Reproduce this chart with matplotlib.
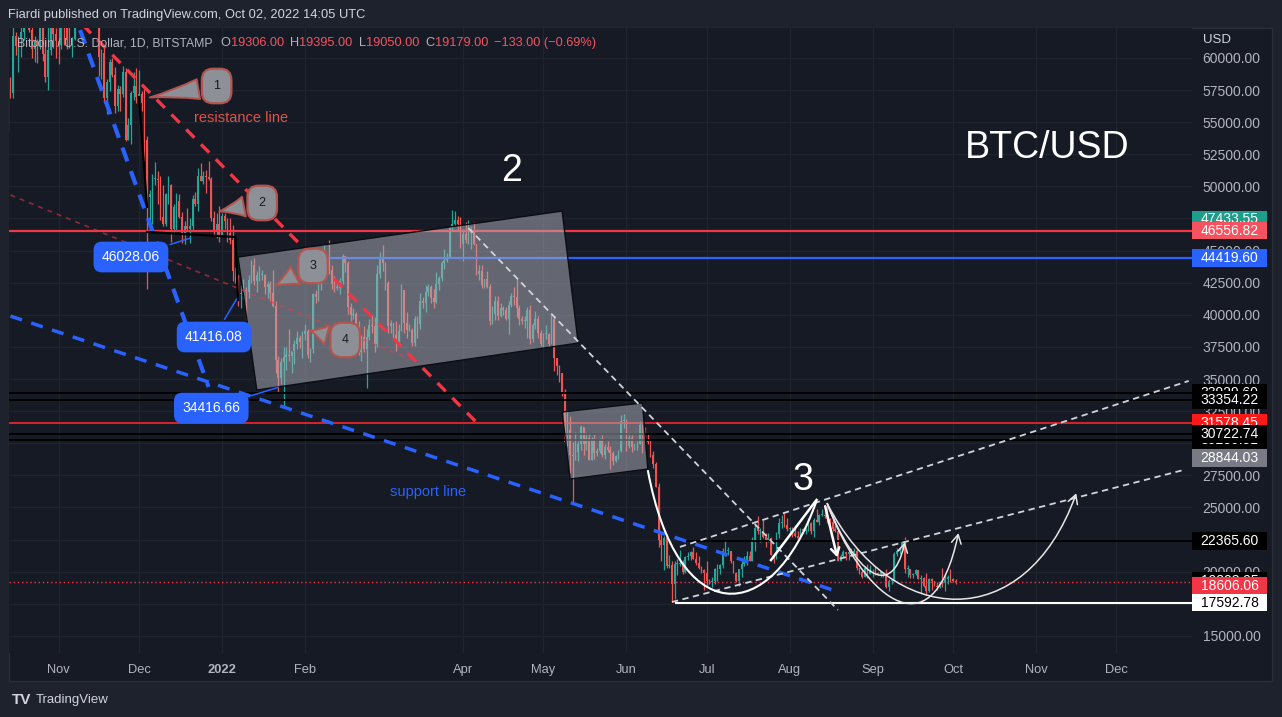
import numpy as np
import pandas as pd
import matplotlib
matplotlib.use('Agg')
import matplotlib.pyplot as plt
import matplotlib.dates as mdates
import matplotlib.transforms as mtransforms
from matplotlib.path import Path
from matplotlib.patches import Polygon, PathPatch, FancyArrowPatch, Rectangle

plt.rcParams['font.family'] = ['Liberation Sans', 'DejaVu Sans']

# BTC/USD daily candles (Bitstamp), thousands of USD, first candle 2021-10-11
first_day = '2021-10-11'
first_open = 54.7
close_k = [
    # Oct 2021 (11th..31st)
    57.5, 56.0, 57.4, 57.3, 61.7, 60.9, 61.5, 62.0, 64.3, 66.0, 62.2, 60.7, 61.3, 60.9, 63.1, 60.3, 58.5, 60.6, 62.3, 61.9, 61.3,
    # Nov
    61.0, 63.2, 62.9, 61.4, 61.0, 61.5, 63.3, 67.5, 66.9, 64.9, 64.9, 64.2, 64.4, 65.5, 63.6, 60.1, 60.4, 56.9, 58.1, 59.7,
    58.7, 56.3, 57.6, 57.2, 58.9, 53.6, 54.8, 57.3, 57.8, 57.0,
    # Dec
    57.2, 56.5, 53.6, 49.2, 49.4, 50.6, 50.6, 50.5, 47.6, 47.1, 49.4, 50.1, 46.7, 48.4, 48.9, 47.6, 46.2, 46.9, 46.7, 46.9,
    49.0, 48.6, 50.8, 50.4, 50.8, 50.7, 50.6, 47.5, 46.5, 47.1, 46.2,
    # Jan 2022
    47.7, 47.3, 46.4, 45.8, 43.4, 43.1, 41.6, 41.7, 41.9, 41.8, 42.7, 43.9, 42.6, 43.1, 43.1, 43.1, 42.2, 42.4, 41.7, 40.7,
    36.5, 35.1, 36.3, 36.7, 36.9, 36.8, 37.2, 37.7, 38.2, 37.9, 38.5,
    # Feb
    38.7, 36.9, 37.3, 41.6, 41.4, 42.4, 43.8, 44.1, 44.4, 43.5, 42.4, 42.2, 42.1, 42.6, 44.6, 44.0, 40.6, 40.0, 40.1, 38.4,
    37.1, 38.3, 37.3, 38.3, 39.2, 39.1, 37.7, 43.2,
    # Mar
    44.4, 44.0, 42.5, 39.1, 39.4, 38.4, 37.9, 38.7, 41.9, 39.4, 38.8, 38.8, 37.8, 39.7, 39.3, 41.1, 40.9, 41.8, 42.2, 41.3,
    41.0, 42.4, 42.9, 44.0, 44.3, 44.5, 46.8, 47.1, 47.4, 47.1, 45.5,
    # Apr
    46.3, 45.8, 46.4, 46.6, 45.5, 43.2, 43.4, 42.3, 42.8, 42.2, 39.5, 40.1, 41.1, 39.9, 40.5, 40.4, 39.7, 40.8, 41.5, 41.4,
    40.5, 39.7, 39.5, 39.5, 40.4, 38.1, 39.2, 39.7, 38.6, 37.7,
    # May
    38.5, 38.5, 37.7, 39.7, 36.6, 36.0, 35.5, 34.0, 30.1, 31.0, 29.1, 29.0, 29.3, 29.9, 31.3, 29.9, 30.4, 28.7, 30.3, 29.2,
    29.4, 30.3, 29.1, 29.7, 29.5, 29.2, 28.6, 29.0, 29.4, 31.7, 31.8,
    # Jun
    29.8, 30.4, 29.7, 29.9, 29.9, 31.4, 31.1, 30.2, 30.1, 29.1, 28.4, 26.6, 22.5, 22.1, 22.6, 20.4, 20.5, 19.0, 20.6, 20.6,
    20.7, 20.0, 21.1, 21.2, 21.5, 21.0, 20.7, 20.3, 20.1, 19.9,
    # Jul
    19.3, 19.2, 19.3, 20.2, 20.2, 20.5, 21.6, 21.6, 21.6, 20.8, 19.9, 19.3, 20.2, 20.6, 20.8, 21.2, 20.8, 22.4, 23.4, 23.2,
    23.2, 22.7, 22.5, 22.6, 21.3, 21.0, 22.9, 23.8, 23.8, 23.6, 23.3,
    # Aug
    23.3, 23.0, 22.8, 22.6, 23.3, 23.2, 23.2, 23.8, 23.2, 24.0, 23.9, 24.4, 24.4, 24.3, 24.1, 23.9, 23.3, 23.2, 20.8, 21.2,
    21.5, 21.4, 21.5, 21.4, 21.6, 20.3, 20.0, 19.6, 20.3, 19.8, 20.1,
    # Sep
    20.1, 19.9, 19.8, 20.0, 19.8, 18.8, 19.3, 19.3, 21.4, 21.6, 21.8, 22.4, 20.2, 20.2, 19.7, 19.8, 20.1, 19.4, 19.5, 18.9,
    18.5, 19.4, 19.3, 18.9, 18.8, 19.2, 19.1, 19.4, 19.6, 19.4,
    # Oct 1-2
    19.306, 19.179,
]
high_k = [
    57.8, 57.7, 57.6, 58.5, 62.9, 62.0, 61.7, 62.6, 64.5, 66.9, 66.6, 63.7, 61.7, 61.5, 63.7, 63.3, 61.4, 62.4, 62.9, 62.4, 62.3,
    62.4, 64.2, 63.5, 63.1, 62.6, 61.6, 63.3, 67.8, 68.5, 69.0, 65.6, 65.5, 64.9, 65.5, 66.3, 63.6, 60.7, 60.9, 58.4, 59.9,
    60.0, 59.3, 57.9, 57.8, 59.4, 59.2, 55.3, 57.4, 58.9, 59.2,
    59.1, 57.4, 57.6, 53.9, 49.7, 51.0, 51.9, 51.2, 50.8, 50.1, 49.5, 50.8, 50.2, 48.6, 49.5, 49.4, 48.0, 47.3, 48.3, 47.5,
    49.3, 49.6, 51.4, 51.8, 51.2, 51.3, 52.0, 50.7, 48.1, 47.9, 48.5,
    47.9, 47.9, 47.5, 47.5, 47.0, 43.7, 43.1, 42.3, 42.8, 42.2, 43.1, 44.3, 44.4, 43.4, 43.8, 43.5, 43.2, 42.6, 42.6, 43.5,
    41.1, 36.8, 36.6, 37.5, 37.5, 38.9, 37.2, 38.0, 38.7, 38.4, 38.7,
    39.3, 38.9, 37.4, 41.7, 41.9, 42.6, 44.5, 45.5, 44.8, 45.8, 43.9, 43.0, 42.7, 42.9, 44.7, 44.6, 44.2, 40.9, 40.5, 40.2,
    39.5, 38.4, 39.1, 38.9, 39.7, 40.0, 39.8, 43.9,
    44.9, 45.4, 44.1, 42.6, 39.6, 39.4, 39.5, 39.3, 42.4, 41.9, 40.2, 39.3, 39.0, 39.9, 39.9, 41.7, 41.4, 42.3, 42.4, 42.3,
    42.0, 43.3, 43.0, 44.2, 45.1, 44.8, 46.9, 48.2, 48.1, 47.7, 47.6,
    46.7, 47.2, 47.4, 46.9, 47.2, 45.5, 43.9, 43.9, 42.8, 43.4, 42.4, 40.7, 41.5, 41.5, 40.9, 40.7, 40.6, 41.1, 41.7, 42.2,
    42.9, 40.8, 39.9, 39.9, 40.6, 40.8, 39.4, 40.3, 39.9, 38.8,
    38.6, 39.2, 38.6, 40.0, 39.8, 36.6, 36.1, 35.5, 34.2, 32.6, 32.1, 30.1, 30.9, 30.2, 31.4, 31.3, 30.8, 30.7, 30.5, 30.7,
    29.6, 30.4, 30.6, 29.9, 30.2, 29.8, 29.4, 29.1, 29.5, 32.2, 32.3,
    31.9, 30.6, 30.6, 29.9, 30.2, 31.7, 31.5, 31.3, 30.7, 30.3, 29.4, 28.5, 26.9, 23.0, 22.8, 22.9, 21.3, 20.8, 20.8, 21.0,
    21.7, 20.9, 21.2, 21.5, 21.6, 21.9, 21.5, 21.2, 20.4, 20.2,
    20.8, 19.4, 19.6, 20.3, 20.6, 20.6, 21.8, 22.5, 21.9, 21.6, 20.8, 20.0, 20.2, 20.8, 21.2, 21.6, 21.6, 22.7, 23.7, 24.3,
    23.4, 24.0, 23.0, 23.0, 22.7, 21.4, 23.1, 24.2, 24.4, 24.6, 24.2,
    23.5, 23.5, 23.6, 23.2, 23.4, 23.4, 23.4, 24.2, 23.9, 24.2, 24.9, 24.5, 24.9, 25.2, 25.2, 24.2, 24.4, 23.6, 23.2, 21.4,
    21.7, 21.5, 21.6, 21.8, 21.8, 21.8, 20.3, 20.1, 20.4, 20.6, 20.5,
    20.2, 20.4, 20.0, 20.0, 20.0, 20.2, 19.4, 19.4, 21.5, 21.8, 21.8, 22.5, 22.7, 20.5, 20.2, 19.9, 20.2, 20.1, 19.7, 19.6,
    19.9, 19.5, 19.5, 19.3, 19.2, 19.3, 20.3, 19.7, 19.7, 20.2,
    19.5, 19.395,
]
low_k = [
    54.4, 53.9, 54.3, 56.9, 56.9, 60.2, 58.9, 60.1, 61.4, 63.5, 62.0, 60.0, 59.7, 59.6, 60.7, 59.8, 58.1, 57.5, 60.2, 60.8, 60.0,
    59.5, 60.7, 61.0, 60.7, 60.8, 60.1, 61.4, 63.1, 66.3, 62.8, 64.1, 62.3, 63.4, 63.6, 63.4, 58.6, 58.4, 56.5, 55.6, 57.4,
    58.5, 55.7, 55.9, 55.9, 57.0, 53.5, 53.6, 53.3, 56.7, 56.5,
    56.5, 55.9, 52.0, 42.0, 47.1, 47.1, 50.1, 48.6, 47.4, 46.9, 46.9, 48.6, 45.7, 46.4, 46.6, 47.5, 45.6, 45.5, 46.5, 45.6,
    46.6, 48.5, 48.1, 50.4, 50.2, 49.5, 50.5, 47.3, 46.1, 46.0, 45.7,
    46.2, 46.7, 45.7, 45.5, 42.6, 42.5, 40.7, 40.5, 41.2, 39.6, 41.3, 42.5, 42.3, 41.8, 42.6, 42.7, 41.6, 41.3, 41.1, 40.6,
    35.5, 34.0, 34.6, 32.9, 35.7, 36.4, 35.5, 36.2, 37.3, 37.4, 36.6,
    38.0, 36.6, 36.3, 37.0, 40.9, 41.1, 41.9, 42.7, 43.1, 43.2, 42.0, 41.8, 41.9, 41.6, 42.4, 43.3, 40.1, 39.5, 39.7, 38.0,
    36.9, 36.4, 37.1, 34.3, 38.0, 38.6, 37.1, 37.5,
    42.9, 43.4, 41.9, 38.6, 38.6, 38.1, 37.2, 37.9, 38.7, 38.6, 38.2, 38.7, 37.6, 37.6, 38.2, 38.9, 40.5, 40.2, 41.5, 40.9,
    40.5, 40.9, 41.9, 42.6, 43.6, 44.1, 44.4, 46.6, 46.9, 46.5, 45.2,
    44.2, 45.6, 45.5, 45.1, 45.4, 43.1, 42.7, 42.1, 42.1, 42.1, 39.2, 39.3, 39.6, 39.6, 39.8, 40.0, 39.6, 38.5, 40.6, 40.8,
    39.8, 39.2, 39.3, 39.0, 38.2, 37.7, 37.9, 38.9, 38.2, 37.6,
    37.4, 38.1, 37.5, 37.7, 35.6, 35.3, 34.8, 33.7, 30.0, 29.8, 27.7, 25.4, 28.7, 28.6, 29.5, 29.1, 29.5, 28.7, 28.7, 28.8,
    29.0, 29.2, 28.9, 28.8, 29.3, 28.0, 28.3, 28.5, 28.8, 29.3, 31.2,
    29.4, 29.6, 29.3, 29.5, 29.5, 29.9, 29.2, 29.9, 29.9, 28.9, 28.1, 26.6, 21.9, 20.8, 20.1, 20.3, 20.3, 17.6, 17.9, 19.7,
    20.4, 19.8, 19.9, 20.9, 20.9, 21.0, 20.5, 20.2, 19.9, 18.6,
    18.9, 19.0, 18.8, 19.0, 19.3, 19.8, 20.3, 21.2, 21.3, 20.7, 19.9, 19.2, 18.9, 19.6, 20.4, 20.5, 20.8, 20.8, 21.6, 22.9,
    22.3, 22.6, 21.9, 22.3, 21.3, 20.7, 21.0, 22.6, 23.4, 23.5, 23.2,
    22.9, 22.7, 22.7, 22.4, 22.6, 23.0, 22.9, 23.2, 22.9, 22.7, 23.9, 23.6, 24.3, 24.2, 23.8, 23.7, 23.2, 23.1, 20.8, 20.8,
    21.1, 20.9, 20.9, 21.2, 21.3, 20.1, 19.8, 19.5, 19.6, 19.5, 19.8,
    19.6, 19.7, 19.7, 19.6, 19.6, 18.7, 18.5, 19.0, 19.3, 21.2, 21.4, 21.6, 19.9, 19.6, 19.5, 19.5, 19.7, 19.4, 18.3, 18.8,
    18.2, 18.4, 18.6, 18.9, 18.6, 18.7, 18.8, 18.5, 19.0, 19.2,
    19.2, 19.05,
]

month_ticks = ['2021-11-01', '2021-12-01', '2022-01-01', '2022-02-01', '2022-04-01', '2022-05-01', '2022-06-01',
               '2022-07-01', '2022-08-01', '2022-09-01', '2022-10-01', '2022-11-01', '2022-12-01']
month_labels = ['Nov', 'Dec', '2022', 'Feb', 'Apr', 'May', 'Jun', 'Jul', 'Aug', 'Sep', 'Oct', 'Nov', 'Dec']
price_ticks = list(range(15000, 60001, 2500))

# horizontal levels drawn on the chart
level_red = 46556.82
level_blue = 44419.60
levels_black = [33929.60, 33354.22, 30722.74, 30259.51]
level_red2 = 31578.45
level_black_low = 22365.60
level_white = 17592.78
last_price = 19179.00

# price tags on the right scale
tag_values = [47433.55, 46556.82, 44419.60, 33929.60, 33354.22, 31578.45, 30259.51, 30722.74,
              28844.03, 22365.60, 19303.95, 18606.06, 17592.78]

# hand drawings, anchored as (date, price)
blue_fast_line = [('2021-11-09', 62180), ('2021-12-27', 34380)]
support_line = [('2021-10-14', 39900), ('2022-08-17', 18570)]
resistance_line = [('2021-11-10', 62570), ('2022-04-07', 31420)]
faint_red_line = [('2021-10-14', 49330), ('2022-03-15', 36330)]
white_dash_lines = [
    [('2022-04-03', 46760), ('2022-08-19', 17010)],
    [('2022-06-21', 21920), ('2022-12-28', 34850)],
    [('2022-06-18', 17630), ('2022-12-26', 27910)],
]
black_strokes = [
    [('2021-12-01', 56960), ('2021-12-04', 48400)],
    [('2021-12-04', 46450), ('2022-01-06', 46060), ('2022-01-07', 41150)],
]
range_boxes = [
    [('2022-01-07', 44500), ('2022-05-08', 48080), ('2022-05-14', 37800), ('2022-01-14', 34140)],
    [('2022-05-08', 32430), ('2022-06-07', 33130), ('2022-06-09', 27990), ('2022-05-11', 27210)],
]
cup_curve = [('2022-06-09', 27900), ('2022-06-20', 15500), ('2022-07-25', 15500), ('2022-08-11', 25500)]
cup_leg = [('2022-07-25', 20900), ('2022-08-11', 25580)]
drop_arrow = [('2022-08-14', 25300), ('2022-08-19', 20900)]
arc_curves = [
    [('2022-08-15', 25300), ('2022-08-25', 20000), ('2022-09-08', 17500), ('2022-09-13', 22300)],
    [('2022-08-15', 25300), ('2022-08-27', 18500), ('2022-09-23', 13000), ('2022-10-03', 23000)],
    [('2022-08-15', 25300), ('2022-09-08', 15500), ('2022-10-28', 15000), ('2022-11-16', 26100)],
]
callout_labels = ['1', '2', '3', '4']
callout_tips = [('2021-12-04', 56890), ('2021-12-30', 48010), ('2022-01-20', 42170), ('2022-02-02', 38820)]
callout_bodies = [('2021-12-30', 57820), ('2022-01-16', 48710), ('2022-02-04', 43800), ('2022-02-16', 38040)]
note_texts = ['46028.06', '41416.08', '34416.66']
note_tips = [('2021-12-21', 46028.06), ('2022-01-07', 41416.08), ('2022-01-23', 34416.66)]
note_boxes = [('2021-11-28', 44500), ('2021-12-29', 38270), ('2021-12-28', 32740)]


def dn(s):
    return mdates.date2num(pd.Timestamp(s))


def pts(seq):
    return [(dn(d), p) for d, p in seq]


W, H = 1282, 717
fig = plt.figure(figsize=(W / 100, H / 100), dpi=100, facecolor='#1e222d')


def fx(x):
    return x / W


def fy(y):
    return 1 - y / H


fig.patches.append(Rectangle((fx(9), fy(681)), fx(1272) - fx(9), fy(28) - fy(681), transform=fig.transFigure,
                             fc='#161a25', ec='#2a2e39', lw=1, zorder=-5))
ax = fig.add_axes([fx(9), fy(653), fx(1192) - fx(9), fy(28) - fy(653)])
ax.set_zorder(1)
ax.set_facecolor('#161a25')
for s in ax.spines.values():
    s.set_visible(False)

jan1 = dn('2022-01-01')
px_day = 2.678
x_left = jan1 + (9 - 222) / px_day
x_right = jan1 + (1192 - 222) / px_day
ax.set_xlim(x_left, x_right)
ax.set_ylim(13661, 62336)

ax.set_xticks([dn(m) for m in month_ticks])
ax.set_xticklabels(month_labels)
ax.get_xticklabels()[2].set_fontweight('bold')
ax.set_yticks(price_ticks)
ax.set_yticklabels([f'{v:.2f}' for v in price_ticks])
ax.yaxis.tick_right()
ax.tick_params(axis='y', length=0, pad=7.6, labelsize=10, labelcolor='#b2b5be')
ax.tick_params(axis='x', length=0, pad=8, labelsize=9.3, labelcolor='#b2b5be')
ax.grid(color='#20242f', lw=0.9)
ax.set_axisbelow(True)

# candles
dates = pd.date_range(first_day, periods=len(close_k), freq='D')
xs = mdates.date2num(dates)
c = np.array(close_k) * 1000
o = np.concatenate([[first_open], close_k[:-1]]) * 1000
hi = np.maximum(np.array(high_k) * 1000, np.maximum(o, c))
lo = np.minimum(np.array(low_k) * 1000, np.minimum(o, c))
col = np.where(c >= o, '#26a69a', '#ef5350')
ax.vlines(xs, lo, hi, colors=col, lw=0.9, zorder=2)
ax.bar(xs, np.maximum(np.abs(c - o), 60), bottom=np.minimum(o, c), width=0.62, color=col, lw=0, zorder=2)

# horizontal levels
ax.axhline(level_red, color='#f23645', lw=1.6, zorder=3)
ax.hlines(level_blue, dn('2022-02-09'), x_right, color='#2962ff', lw=1.6, zorder=3)
for lv in levels_black:
    ax.axhline(lv, color='black', lw=1.3, zorder=3)
ax.axhline(level_red2, color='#f7262b', lw=1.2, zorder=3)
ax.hlines(level_black_low, dn('2022-06-21'), x_right, color='black', lw=1.3, zorder=3)
ax.hlines(level_white, dn('2022-06-19'), x_right, color='white', lw=1.5, zorder=3)
ax.axhline(last_price, color='#f23645', lw=1, ls=(0, (1, 2)), zorder=3)

# gray range boxes over the candles
for box in range_boxes:
    ax.add_patch(Polygon(pts(box), closed=True, fc='#b2b5be', alpha=0.5, ec='none', zorder=4))
    ax.add_patch(Polygon(pts(box), closed=True, fill=False, ec='#0b0d12', lw=1, zorder=4))


# trend lines
def seg(points, **kw):
    p = np.array(pts(points))
    ax.plot(p[:, 0], p[:, 1], **kw)


seg(faint_red_line, color='#f23645', alpha=0.55, lw=1.2, ls=(0, (3, 3)), zorder=5)
seg(blue_fast_line, color='#2962ff', lw=3, ls=(0, (3.5, 2.5)), zorder=5)
seg(support_line, color='#2962ff', lw=2.5, ls=(0, (3.5, 2.8)), zorder=5)
seg(resistance_line, color='#f23645', lw=2.4, ls=(0, (3.5, 2.8)), zorder=5)
for ln in white_dash_lines:
    seg(ln, color='#d1d4dc', lw=1.3, ls=(0, (3.5, 2.5)), zorder=5)
for st in black_strokes:
    seg(st, color='black', lw=1.6, zorder=5)

# white hand-drawn curves
bez = [Path.MOVETO, Path.CURVE4, Path.CURVE4, Path.CURVE4]
ax.add_patch(PathPatch(Path(pts(cup_curve), bez), fill=False, ec='white', lw=1.5, zorder=6))
seg(cup_leg, color='white', lw=1.8, zorder=6)
ax.annotate('', xy=pts(drop_arrow)[1], xytext=pts(drop_arrow)[0],
            arrowprops=dict(arrowstyle='->,head_length=0.5,head_width=0.3', color='white', lw=1.8), zorder=6)
for arc in arc_curves:
    ax.add_patch(FancyArrowPatch(path=Path(pts(arc), bez), arrowstyle='->,head_length=0.45,head_width=0.25',
                                 mutation_scale=14, color='#e6e6e6', lw=1.1, transform=ax.transData, zorder=6))

# numbered callouts
for lab, tip, body in zip(callout_labels, callout_tips, callout_bodies):
    ax.annotate(lab, xy=pts([tip])[0], xytext=pts([body])[0], ha='center', va='center', fontsize=9, color='#1a1a1a',
                bbox=dict(boxstyle='round,pad=0.9', fc='#8e9097', ec='#b5544f', lw=1.6),
                arrowprops=dict(arrowstyle='wedge,tail_width=1.6,shrink_factor=0.4', fc='#8e9097', ec='#b5544f',
                                lw=1.4), zorder=8)

# blue price notes
for txt, tip, body in zip(note_texts, note_tips, note_boxes):
    ax.annotate(txt, xy=pts([tip])[0], xytext=pts([body])[0], ha='center', va='center', fontsize=10, color='white',
                bbox=dict(boxstyle='round,pad=0.6', fc='#2962ff', ec='none'),
                arrowprops=dict(arrowstyle='-', color='#2962ff', lw=1.1), zorder=8)

# chart texts
ax.text(dn('2022-01-08'), 55330, 'resistance line', color='#e0524a', fontsize=10.5, ha='center', va='center', zorder=7)
ax.text(dn('2022-03-19'), 26200, 'support line', color='#2962ff', fontsize=10.5, ha='center', va='center', zorder=7)
ax.text(dn('2022-04-19'), 51200, '2', color='white', fontsize=27, ha='center', va='center', zorder=7)
ax.text(dn('2022-08-06'), 27135, '3', color='white', fontsize=27, ha='center', va='center', zorder=7)
ax.text(dn('2022-11-05'), 52990, 'BTC/USD', color='white', fontsize=27, ha='center', va='center', zorder=7)

# price tags on the scale (later tags sit on top of earlier ones)
tag_fills = ['#1e9e8a', '#f7525f', '#2962ff', 'black', 'black', '#ff1a1a', 'black', 'black',
             '#787b86', 'black', 'black', '#f23645', 'white']
tag_text = ['white'] * 12 + ['black']
tag_y = list(tag_values)
tag_y[11] = 18860  # pushed up by the scale to avoid overlap
tr = mtransforms.blended_transform_factory(ax.transAxes, ax.transData)
bw = 75 / (1192 - 9)
bh = 1370
for i, (v, y, fc, tc) in enumerate(zip(tag_values, tag_y, tag_fills, tag_text)):
    ax.add_patch(Rectangle((1.0, y - bh / 2), bw, bh, transform=tr, fc=fc, ec='none', clip_on=False,
                           zorder=10 + 2 * i))
    ax.text(1.0 + bw / 2, y, f'{v:.2f}', transform=tr, ha='center', va='center', color=tc, fontsize=10,
            clip_on=False, zorder=11 + 2 * i)

# header / legend / footer
fig.text(fx(1203), fy(40), 'USD', color='#d1d4dc', fontsize=9.5, va='center', ha='left')
fig.text(fx(8), fy(15), 'Fiardi published on TradingView.com, Oct 02, 2022 14:05 UTC', color='#d1d4dc',
         fontsize=9.3, va='center', ha='left')
legend_parts = [('Bitcoin / U.S. Dollar, 1D, BITSTAMP', 17, '#b2b5be'), ('O', 220, '#b2b5be'),
                ('19306.00', 231, '#f7525f'), ('H', 290, '#b2b5be'), ('19395.00', 299, '#f7525f'),
                ('L', 359, '#b2b5be'), ('19050.00', 366, '#f7525f'), ('C', 425, '#b2b5be'),
                ('19179.00', 435, '#f7525f'), ('\u2212133.00 (\u22120.69%)', 494, '#f7525f')]
for t, xp, cc in legend_parts:
    fig.text(fx(xp), fy(43), t, color=cc, fontsize=9.2 if xp > 17 else 8.8, va='center', ha='left')
fig.text(fx(12), fy(700), 'TV', color='#d1d4dc', fontsize=11, fontweight='bold', va='center', ha='left')
fig.text(fx(36), fy(700), 'TradingView', color='#d1d4dc', fontsize=9.5, va='center', ha='left')

fig.savefig('out.png', dpi=100, facecolor=fig.get_facecolor())
